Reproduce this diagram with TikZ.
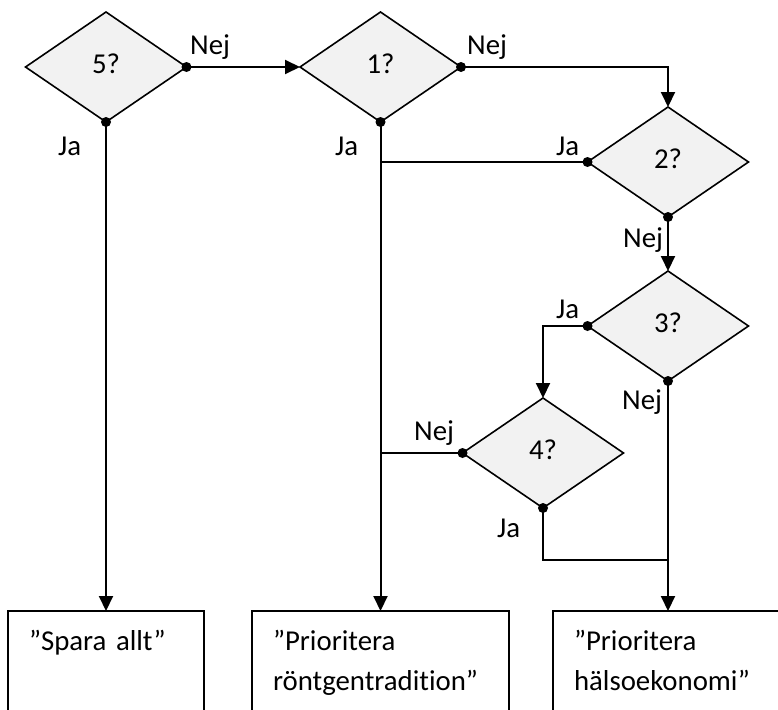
\documentclass[tikz,border=0pt]{standalone}
\usepackage{fontspec}
\setmainfont{Carlito}[Ligatures=NoCommon]
\usetikzlibrary{arrows.meta,positioning,shapes.geometric}
\definecolor{qgray}{HTML}{F2F2F2}

\begin{document}
\begin{tikzpicture}[
    x=1pt, y=-1pt,
    font=\fontsize{28.8}{40}\selectfont,
    question/.style={diamond, draw, line width=1.6pt, fill=qgray, minimum width=161pt, minimum height=110pt, inner sep=0pt, outer sep=0pt, text depth=7pt},
    outcome/.style={draw, line width=2pt, anchor=north, text width=#1, minimum width=#1+42pt, inner xsep=21pt, inner ysep=20pt, outer sep=0pt, align=left, text height=19pt, text depth=45pt, execute at begin node={\hyphenpenalty=10000}},
    yn/.style={anchor=base west, inner sep=0pt},
    flow/.style={line width=2pt, -{Triangle[length=15pt,width=14pt]}},
    link/.style={line width=1.8pt}
]
\useasboundingbox (0,0) rectangle (778,709);

% questions
\node[question] (d5) at (106,67) {5?};
\node[question] (d1) at (380.5,67) {1?};
\node[question] (d2) at (668,162) {2?};
\node[question] (d3) at (668,326) {3?};
\node[question] (d4) at (543,453) {4?};

% outcomes
\node[outcome=154pt] (b1) at (106,611) {”Spara allt”};
\node[outcome=215pt] (b2) at (380.5,611) {”Prioritera\\röntgentradition”};
\node[outcome=188pt] (b3) at (668,611) {”Prioritera\\hälsoekonomi”};

\coordinate (merge) at (668,560);

% connectors
\draw[flow] (d5.east) -- (d1.west);
\draw[flow] (d5.south) -- (b1.north);
\draw[flow] (d1.east) -| (d2.north);
\draw[flow] (d1.south) -- (b2.north);
\draw[link] (d2.west) -- (d2.west -| d1.south);
\draw[flow] (d2.south) -- (d3.north);
\draw[flow] (d3.west) -| (d4.north);
\draw[flow] (d3.south) -- (b3.north);
\draw[link] (d4.west) -- (d4.west -| d1.south);
\draw[link] (d4.south) |- (merge);

\foreach \p in {d5.east,d5.south,d1.east,d1.south,d2.west,d2.south,d3.west,d3.south,d4.west,d4.south}
  \fill (\p) circle (5pt);

% answers
\node[yn] (n5) at (190,55) {Nej};
\node[yn] (j5) at (58,155) {Ja};
\node[yn] (n1) at (467,55) {Nej};
\node[yn] (j1) at (335,155) {Ja};
\node[yn] (j2) at (556,155) {Ja};
\node[yn] (n2) at (623,247) {Nej};
\node[yn] (j3) at (556,318) {Ja};
\node[yn] (n3) at (622,409) {Nej};
\node[yn] (n4) at (414,440) {Nej};
\node[yn] (j4) at (497,537) {Ja};
\end{tikzpicture}
\end{document}
